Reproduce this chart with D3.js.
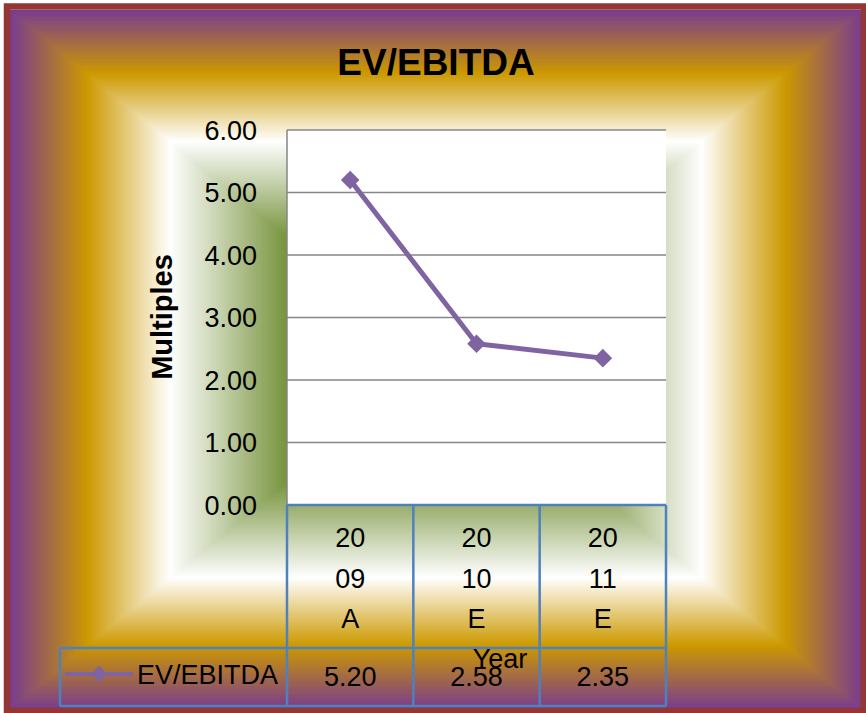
<!DOCTYPE html>
<html>
<head>
<meta charset="utf-8">
<script src="https://cdn.jsdelivr.net/npm/d3@7"></script>
<style>
  body { margin: 0; background: #fff; }
  svg text { font-family: "Liberation Sans", Arial, sans-serif; fill: #000; }
</style>
</head>
<body>
<svg id="chart" width="866" height="713"></svg>
<script>
// chart data
var categories = ["2009A", "2010E", "2011E"];
var seriesName = "EV/EBITDA";
var values = [5.20, 2.58, 2.35];
var yTicks = [0, 1, 2, 3, 4, 5, 6];

var svg = d3.select("svg#chart");

// frame + rectangular gradient fill (purple -> gold -> white -> green)
var fx0 = 10, fy0 = 10, fx1 = 862, fy1 = 709;
var hw = (fx1 - fx0) / 2, hh = (fy1 - fy0) / 2;
var bgColor = d3.scaleLinear()
	.domain([0, 0.18, 0.375, 0.65])
	.range(["#7a3c8f", "#cc9900", "#ffffff", "#77933c"])
	.interpolate(d3.interpolateRgb)
	.clamp(true);

var steps = d3.range(0, 281).map(function(i) { return i / 280 * 0.7; });
svg.append("g")
	.selectAll("rect")
	.data(steps)
	.enter().append("rect")
		.attr("x", function(d) { return fx0 + d * hw; })
		.attr("y", function(d) { return fy0 + d * hh; })
		.attr("width", function(d) { return 2 * hw * (1 - d); })
		.attr("height", function(d) { return 2 * hh * (1 - d); })
		.attr("fill", function(d) { return bgColor(d); });

svg.append("rect")
	.attr("x", 7).attr("y", 6.5)
	.attr("width", 857).attr("height", 704.5)
	.attr("fill", "none")
	.attr("stroke", "#943634")
	.attr("stroke-width", 6.5);

// title
svg.append("text")
	.text("EV/EBITDA")
	.attr("x", 436)
	.attr("y", 75)
	.attr("text-anchor", "middle")
	.style("font-weight", "bold")
	.style("font-size", "37px");

// scales
var x = d3.scaleBand().domain(categories).range([287, 666]);
var y = d3.scaleLinear().domain([0, 6]).range([505, 130]);

// plot area
svg.append("rect")
	.attr("x", 287).attr("y", 130)
	.attr("width", 379).attr("height", 375)
	.attr("fill", "#ffffff");

svg.append("g")
	.selectAll("line")
	.data(yTicks)
	.enter().append("line")
		.attr("x1", 287).attr("x2", 666)
		.attr("y1", function(d) { return y(d); })
		.attr("y2", function(d) { return y(d); })
		.attr("stroke", "#868686")
		.attr("stroke-width", 1.5);

svg.append("line")
	.attr("x1", 287).attr("x2", 287)
	.attr("y1", 130).attr("y2", 505)
	.attr("stroke", "#868686")
	.attr("stroke-width", 1.5);

// y tick labels
svg.append("g")
	.selectAll("text")
	.data(yTicks)
	.enter().append("text")
		.text(d3.format(".2f"))
		.attr("x", 257)
		.attr("y", function(d) { return y(d); })
		.attr("dy", "0.36em")
		.attr("text-anchor", "end")
		.style("font-size", "27px");

// y axis title
svg.append("text")
	.text("Multiples")
	.attr("transform", "translate(172,317) rotate(-90)")
	.attr("text-anchor", "middle")
	.style("font-weight", "bold")
	.style("font-size", "29px");

// series line + markers
var pts = categories.map(function(c, i) { return [x(c) + x.bandwidth() / 2, y(values[i])]; });
svg.append("path")
	.datum(pts)
	.attr("d", d3.line())
	.attr("fill", "none")
	.attr("stroke", "#8064a2")
	.attr("stroke-width", 5)
	.attr("stroke-linejoin", "round");

var diamond = d3.symbol().type(d3.symbolDiamond2).size(220);
svg.append("g")
	.selectAll("path")
	.data(pts)
	.enter().append("path")
		.attr("d", diamond)
		.attr("transform", function(d) { return "translate(" + d[0] + "," + d[1] + ")"; })
		.attr("fill", "#8064a2");

// data table
var tableColor = "#4f81bd";
var tbl = svg.append("g")
	.attr("stroke", tableColor)
	.attr("stroke-width", 2.5)
	.attr("fill", "none");

tbl.append("line").attr("x1", 287).attr("x2", 666).attr("y1", 505).attr("y2", 505);
tbl.append("line").attr("x1", 60).attr("x2", 666).attr("y1", 648).attr("y2", 648);
tbl.append("line").attr("x1", 60).attr("x2", 666).attr("y1", 706).attr("y2", 706);
tbl.append("line").attr("x1", 60).attr("x2", 60).attr("y1", 648).attr("y2", 706);
tbl.selectAll("line.col")
	.data(categories.concat(["end"]))
	.enter().append("line")
		.attr("class", "col")
		.attr("x1", function(d, i) { return 287 + i * x.bandwidth(); })
		.attr("x2", function(d, i) { return 287 + i * x.bandwidth(); })
		.attr("y1", 505).attr("y2", 706);

// category labels, wrapped like the original
categories.forEach(function(c) {
	var parts = [c.slice(0, 2), c.slice(2, 4), c.slice(4)];
	var t = svg.append("text")
		.attr("text-anchor", "middle")
		.style("font-size", "27px");
	parts.forEach(function(p, j) {
		t.append("tspan")
			.attr("x", x(c) + x.bandwidth() / 2)
			.attr("y", 547 + j * 40.5)
			.text(p);
	});
});

// value row
svg.append("g")
	.selectAll("text")
	.data(values)
	.enter().append("text")
		.text(d3.format(".2f"))
		.attr("x", function(d, i) { return x(categories[i]) + x.bandwidth() / 2; })
		.attr("y", 686)
		.attr("text-anchor", "middle")
		.style("font-size", "27px");

// legend key in table
svg.append("line")
	.attr("x1", 65).attr("x2", 133)
	.attr("y1", 674).attr("y2", 674)
	.attr("stroke", "#8064a2")
	.attr("stroke-width", 4);
svg.append("path")
	.attr("d", d3.symbol().type(d3.symbolDiamond2).size(170))
	.attr("transform", "translate(99,674)")
	.attr("fill", "#8064a2");
svg.append("text")
	.text(seriesName)
	.attr("x", 137)
	.attr("y", 684)
	.style("font-size", "27px");

// x axis title
svg.append("text")
	.text("Year")
	.attr("x", 500)
	.attr("y", 668)
	.attr("text-anchor", "middle")
	.style("font-size", "27px");
</script>
</body>
</html>
